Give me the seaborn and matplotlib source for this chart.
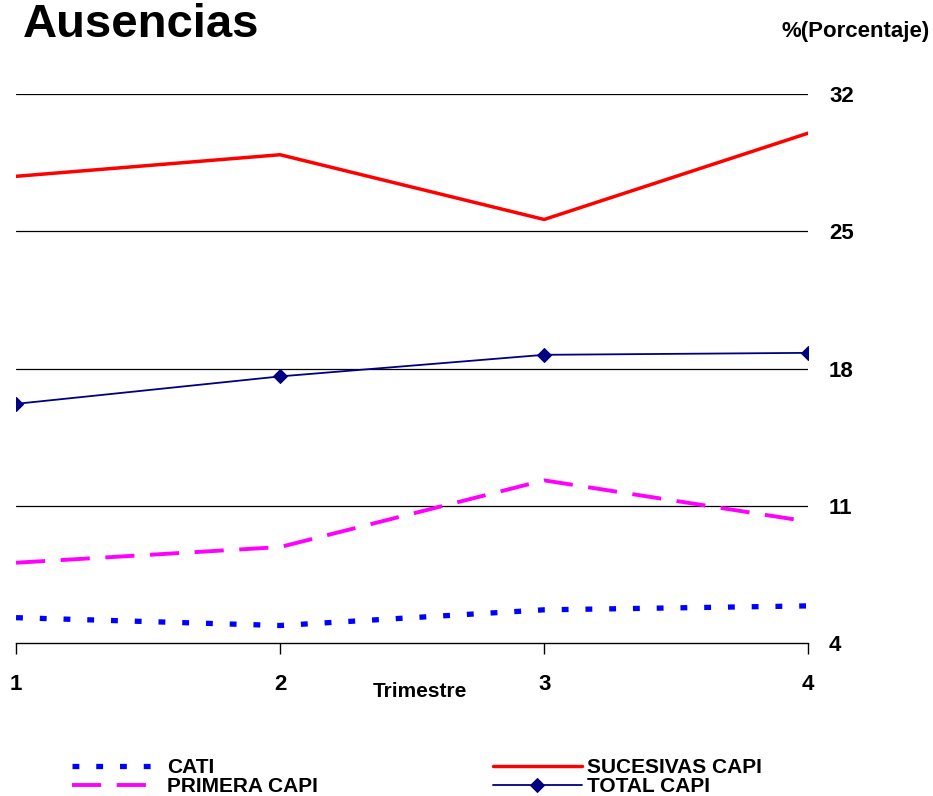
import pandas as pd
import matplotlib
matplotlib.use("Agg")
import matplotlib.pyplot as plt
import seaborn as sns

sns.set_theme(style="white")
plt.rcParams["font.family"] = ["Liberation Sans", "DejaVu Sans"]
plt.rcParams["text.color"] = "black"
plt.rcParams["axes.labelcolor"] = "black"
plt.rcParams["xtick.color"] = "black"
plt.rcParams["ytick.color"] = "black"

trimestre = [1, 2, 3, 4]
cati = [5.3, 4.9, 5.7, 5.9]
primera_capi = [8.1, 8.9, 12.3, 10.2]
sucesivas_capi = [27.8, 28.9, 25.6, 30.0]
total_capi = [16.2, 17.6, 18.7, 18.8]
y_ticks = [4, 11, 18, 25, 32]

df = pd.DataFrame({
    "Trimestre": trimestre,
    "CATI": cati,
    "PRIMERA CAPI": primera_capi,
    "SUCESIVAS CAPI": sucesivas_capi,
    "TOTAL CAPI": total_capi,
})

fig = plt.figure(figsize=(9.33, 7.96), dpi=100)
ax = fig.add_axes([0.0172, 0.192, 0.849, 0.690])

for y in y_ticks[1:]:
    ax.axhline(y, color="black", linewidth=0.9, zorder=0)

sns.lineplot(data=df, x="Trimestre", y="CATI", ax=ax, color="#0000FF",
             linewidth=3.8, linestyle=(0, (1.3, 3.2)), label="CATI")
sns.lineplot(data=df, x="Trimestre", y="SUCESIVAS CAPI", ax=ax, color="#FF0000",
             linewidth=2.5, label="SUCESIVAS CAPI")
sns.lineplot(data=df, x="Trimestre", y="PRIMERA CAPI", ax=ax, color="#FF00FF",
             linewidth=2.8, linestyle=(0, (7.5, 4)), label="PRIMERA CAPI")
sns.lineplot(data=df, x="Trimestre", y="TOTAL CAPI", ax=ax, color="#000080",
             linewidth=1.3, marker="D", markersize=7, markeredgecolor="#000080",
             label="TOTAL CAPI")

ax.set_xlim(1, 4)
ax.set_ylim(4, 32)
ax.set_xticks(trimestre)
ax.set_yticks(y_ticks)
ax.yaxis.tick_right()
ax.tick_params(axis="y", length=0, pad=15, labelsize=16)
ax.tick_params(axis="x", bottom=True, length=8, width=1, color="black",
               pad=14, labelsize=16)
for lab in ax.get_xticklabels() + ax.get_yticklabels():
    lab.set_fontweight("bold")

for side in ["left", "right", "top"]:
    ax.spines[side].set_visible(False)
ax.spines["bottom"].set_color("black")
ax.spines["bottom"].set_linewidth(1)

ax.set_xlabel("Trimestre", fontsize=15, fontweight="bold")
ax.set_ylabel("")
ax.xaxis.set_label_coords(0.51, -0.07)

fig.text(0.025, 0.953, "Ausencias", fontsize=34, fontweight="bold",
         ha="left", va="baseline")
fig.text(0.997, 0.953, "%(Porcentaje)", fontsize=16, fontweight="bold",
         ha="right", va="baseline")

handles, labels = ax.get_legend_handles_labels()
order = [0, 2, 1, 3]
ax.legend([handles[i] for i in order], [labels[i] for i in order],
          loc="center left", bbox_to_anchor=(0.077, 0.024),
          bbox_transform=fig.transFigure, ncol=2, frameon=False,
          borderpad=0, borderaxespad=0,
          handlelength=4.3, handletextpad=0.25, columnspacing=8.4,
          labelspacing=0.0, prop={"weight": "bold", "size": 15})

fig.savefig("out.png", dpi=100)
